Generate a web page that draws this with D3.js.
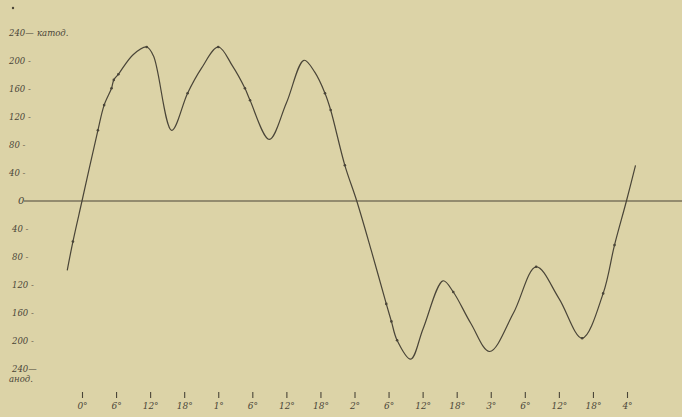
<!DOCTYPE html>
<html><head><meta charset="utf-8">
<script src="https://cdn.jsdelivr.net/npm/d3@7"></script>
<style>
html,body{margin:0;padding:0;background:#dcd3a7;}
svg{display:block;}
text{font-family:"DejaVu Serif",serif;font-style:italic;fill:#4a4538;}
</style></head>
<body>
<svg id="c" width="682" height="417"></svg>
<script>
// curve: hour (0 = day 0, 24 per day) -> value
const hours  = [-2.6,-1.6,0,2.8,3.9,5.2,5.6,6.4,9,11.4,12.6,15.8,18.6,21,24,26.5,28.7,29.6,33,36,39.1,41,42.8,43.8,46.3,48.4,51,53.6,54.5,55.5,57.9,60.1,63.6,65.4,68.5,71.8,76,80,84,88.1,91.8,93.8,95.9,97.5];
const values = [-99,-58,0,101,137,161,173,181,209,220,207,101,154,189,220,193,161,144,88,140,201,184,154,130,51,0,-72,-147,-172,-199,-226,-182,-114,-130,-175,-215,-160,-94,-139,-196,-132,-63,0,51];
const markers = [-1.6,2.8,3.9,5.2,5.6,6.4,11.4,18.6,24,28.7,29.6,42.8,43.8,46.3,53.6,54.5,55.5,65.4,80,88.1,91.8,93.8];
const xTickHours  = [0,6,12,18,24,30,36,42,48,54,60,66,72,78,84,90,96];
const xTickLabels = ["0°","6°","12°","18°","1°","6°","12°","18°","2°","6°","12°","18°","3°","6°","12°","18°","4°"];
const yTicks = [240,200,160,120,80,40,0,-40,-80,-120,-160,-200,-240];

const svg = d3.select("#c");
const x = d3.scaleLinear().domain([0,96]).range([82,627]);
const y = d3.scaleLinear().domain([-240,240]).range([369,33]);
const ink = "#4a4538";

svg.append("circle").attr("cx",13).attr("cy",8).attr("r",1.2).attr("fill",ink);

svg.append("line").attr("x1",24).attr("x2",682).attr("y1",y(0)).attr("y2",y(0))
  .attr("stroke",ink).attr("stroke-width",1.2);

yTicks.forEach(v=>{
  let t;
  if (v===0) t="0";
  else if (Math.abs(v)===240) t="240—";
  else t=Math.abs(v)+" -";
  const xp = v===0 ? 18 : (v>0 ? 9 : 12);
  svg.append("text").attr("x",xp).attr("y",y(v)+3).attr("font-size",v===0?10:8.5).text(t);
});
svg.append("text").attr("x",37).attr("y",y(240)+3).attr("font-size",8.5).text("катод.");
svg.append("text").attr("x",9).attr("y",y(-240)+13).attr("font-size",8.5).text("анод.");

const xAxis = d3.axisBottom(x).tickValues(xTickHours)
  .tickFormat((d,i)=>xTickLabels[i]).tickSize(0).tickPadding(0);
const gx = svg.append("g").attr("transform","translate(0,400)").call(xAxis);
gx.select(".domain").remove();
gx.selectAll("text").attr("font-size",9).attr("dy","1.0em").attr("fill",ink)
  .style("font-family","DejaVu Serif").style("font-style","italic");
gx.selectAll(".tick").append("line").attr("y1",-8).attr("y2",-2).attr("stroke",ink).attr("stroke-width",1.1);

const pts = hours.map((h,i)=>[h,values[i]]);
const gen = d3.line().x(d=>x(d[0])).y(d=>y(d[1])).curve(d3.curveCatmullRom.alpha(0.5));
svg.append("path").datum(pts).attr("d",gen).attr("fill","none")
  .attr("stroke",ink).attr("stroke-width",1.2);

markers.forEach(h=>{
  const i = hours.indexOf(h);
  svg.append("circle").attr("cx",x(h)).attr("cy",y(values[i])).attr("r",1.3).attr("fill",ink);
});
</script>
</body></html>
